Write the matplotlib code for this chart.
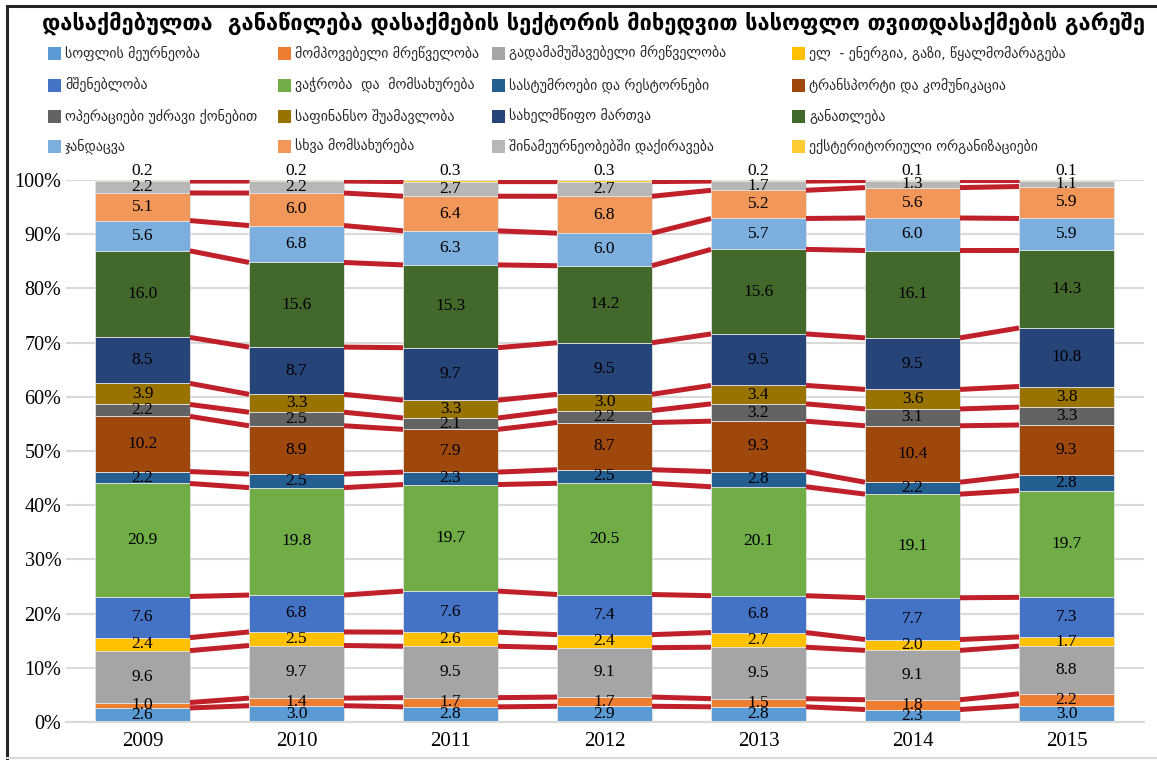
import matplotlib
matplotlib.use("Agg")
import matplotlib.pyplot as plt
from matplotlib.patches import Rectangle
from matplotlib.lines import Line2D
import numpy as np

years = ["2009", "2010", "2011", "2012", "2013", "2014", "2015"]

sectors = [
    "სოფლის მეურნეობა",
    "მომპოვებელი მრეწველობა",
    "გადამამუშავებელი მრეწველობა",
    "ელ  - ენერგია, გაზი, წყალმომარაგება",
    "მშენებლობა",
    "ვაჭრობა  და  მომსახურება",
    "სასტუმროები და რესტორნები",
    "ტრანსპორტი და კომუნიკაცია",
    "ოპერაციები უძრავი ქონებით",
    "საფინანსო შუამავლობა",
    "სახელმწიფო მართვა",
    "განათლება",
    "ჯანდაცვა",
    "სხვა მომსახურება",
    "შინამეურნეობებში დაქირავება",
    "ექსტერიტორიული ორგანიზაციები",
]

colors = ["#5B9BD5", "#ED7D31", "#A5A5A5", "#FFC000", "#4472C4", "#70AD47",
          "#255E91", "#9E480E", "#636363", "#997300", "#264478", "#43682B",
          "#7CAFDD", "#F1975A", "#B7B7B7", "#FFCD33"]

v2009 = [2.6, 1.0, 9.6, 2.4, 7.6, 20.9, 2.2, 10.2, 2.2, 3.9, 8.5, 16.0, 5.6, 5.1, 2.2, 0.2]
v2010 = [3.0, 1.4, 9.7, 2.5, 6.8, 19.8, 2.5, 8.9, 2.5, 3.3, 8.7, 15.6, 6.8, 6.0, 2.2, 0.2]
v2011 = [2.8, 1.7, 9.5, 2.6, 7.6, 19.7, 2.3, 7.9, 2.1, 3.3, 9.7, 15.3, 6.3, 6.4, 2.7, 0.3]
v2012 = [2.9, 1.7, 9.1, 2.4, 7.4, 20.5, 2.5, 8.7, 2.2, 3.0, 9.5, 14.2, 6.0, 6.8, 2.7, 0.3]
v2013 = [2.8, 1.5, 9.5, 2.7, 6.8, 20.1, 2.8, 9.3, 3.2, 3.4, 9.5, 15.6, 5.7, 5.2, 1.7, 0.2]
v2014 = [2.3, 1.8, 9.1, 2.0, 7.7, 19.1, 2.2, 10.4, 3.1, 3.6, 9.5, 16.1, 6.0, 5.6, 1.3, 0.1]
v2015 = [3.0, 2.2, 8.8, 1.7, 7.3, 19.7, 2.8, 9.3, 3.3, 3.8, 10.8, 14.3, 5.9, 5.9, 1.1, 0.1]

title = "დასაქმებულთა  განაწილება დასაქმების სექტორის მიხედვით სასოფლო თვითდასაქმების გარეშე"

W, H = 1157, 760
fig = plt.figure(figsize=(W / 100, H / 100), dpi=100)

def fx(px):
    return px / W

def fy(py):
    return 1 - py / H

# outer frame
fig.add_artist(Line2D([fx(7), fx(7)], [fy(6), fy(758)], color="#262626", lw=2.2))
fig.add_artist(Line2D([fx(7), 1.0], [fy(6), fy(6)], color="#262626", lw=2.2))
fig.add_artist(Line2D([fx(7), 1.0], [fy(758), fy(758)], color="#D9D9D9", lw=1.5))

ax = fig.add_axes([fx(65.5), fy(722), fx(1143.5) - fx(65.5), fy(180) - fy(722)])

data = np.array([v2009, v2010, v2011, v2012, v2013, v2014, v2015])  # years x sectors
totals = data.sum(axis=1)
shares = data / totals[:, None]
x = np.arange(len(years))
width = 0.617

bottom = np.zeros(len(years))
tops_all = []
for j, name in enumerate(sectors):
    h = shares[:, j]
    ax.bar(x, h, width, bottom=bottom, color=colors[j], edgecolor="#E3E3E3",
           linewidth=0.6, zorder=2)
    for i in range(len(years)):
        val = data[i, j]
        if j == len(sectors) - 1:
            ax.text(x[i], bottom[i] + h[i] + 0.001, f"{val:.1f}", ha="center", va="bottom",
                    fontsize=12.5, family="Liberation Serif", color="black", zorder=5)
        else:
            ax.text(x[i], bottom[i] + h[i] / 2, f"{val:.1f}", ha="center", va="center",
                    fontsize=12.5, family="Liberation Serif", color="black", zorder=5)
    bottom = bottom + h
    tops_all.append(bottom.copy())

# series lines
for tops in tops_all:
    for i in range(len(years) - 1):
        ax.plot([x[i] + width / 2, x[i + 1] - width / 2], [tops[i], tops[i + 1]],
                color="#C0202A", lw=3.6, solid_capstyle="butt", zorder=3)

ax.set_xlim(-0.5, len(years) - 0.5)
ax.set_ylim(0, 1.0)
ax.set_yticks(np.arange(0, 1.01, 0.1))
ax.set_yticklabels([f"{int(round(t * 100))}%" for t in np.arange(0, 1.01, 0.1)],
                   family="Liberation Serif", fontsize=14.5)
ax.set_xticks(x)
ax.set_xticklabels(years, family="Liberation Serif", fontsize=15)
ax.tick_params(axis="both", length=0)
ax.tick_params(axis="y", pad=3)
ax.tick_params(axis="x", pad=7)
ax.grid(axis="y", color="#D9D9D9", lw=1.5, zorder=0)
ax.set_axisbelow(True)
for s in ["top", "right", "left"]:
    ax.spines[s].set_visible(False)
ax.spines["bottom"].set_color("#D9D9D9")
ax.spines["bottom"].set_linewidth(1.5)

# title, fitted to the reference width
t = fig.text(fx(593), fy(23), title, ha="center", va="center", fontsize=17.5,
             fontweight="bold", family="DejaVu Sans", color="black")
renderer = fig.canvas.get_renderer()
wpx = t.get_window_extent(renderer).width
t.set_fontsize(17.5 * 1100 / wpx)

# legend (row-major, 4 columns)
col_x = [48, 278, 492, 792]
row_y = [53.5, 85, 116, 146]
for k, name in enumerate(sectors):
    r, c = divmod(k, 4)
    px, py = col_x[c], row_y[r]
    fig.add_artist(Rectangle((fx(px), fy(py + 6.5)), fx(12.5), 13 / H,
                             facecolor=colors[k], edgecolor="none"))
    fig.text(fx(px + 17), fy(py), name, ha="left", va="center", fontsize=10,
             family="DejaVu Sans", color="#262626")

fig.savefig("out.png", dpi=100)
